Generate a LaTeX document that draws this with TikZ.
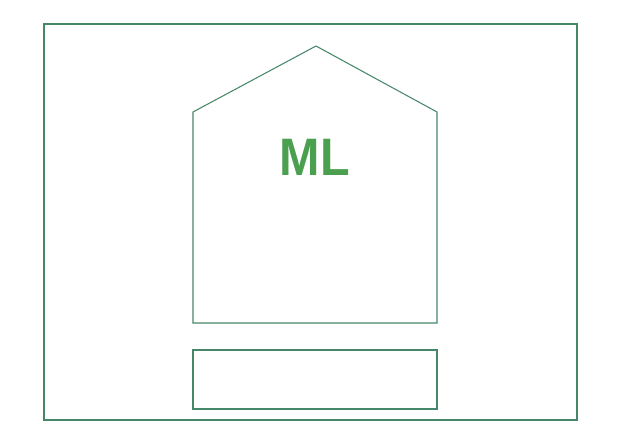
\documentclass[tikz,border=0pt]{standalone}
\usepackage{fontspec}
\setmainfont{Liberation Sans}
\definecolor{framegreen}{RGB}{70,135,105}
\definecolor{textgreen}{RGB}{75,160,80}
\begin{document}
\begin{tikzpicture}[x=0.03cm, y=-0.03cm, outline/.style={draw=framegreen, line width=0.9pt}]
        % Page size
        \useasboundingbox (0,0) rectangle (618,432);

        % Outer frame
        \draw[outline] (44,24) rectangle (577,420);

        % House-shaped panel
        \coordinate (BL) at (193,323);
        \coordinate (SL) at (193,112);
        \coordinate (AP) at (316,46);
        \coordinate (SR) at (437,112);
        \coordinate (BR) at (437,323);
        \draw[outline, line join=miter] (BL) -- (SL) -- (AP) -- (SR) -- (BR) -- cycle;

        % Label
        \node[text=textgreen, font=\bfseries\fontsize{45}{50}\selectfont, xscale=0.92] (ML) at (315,157) {ML};

        % Lower box
        \draw[outline] (193,350) rectangle (437,409);
    \end{tikzpicture}
\end{document}
